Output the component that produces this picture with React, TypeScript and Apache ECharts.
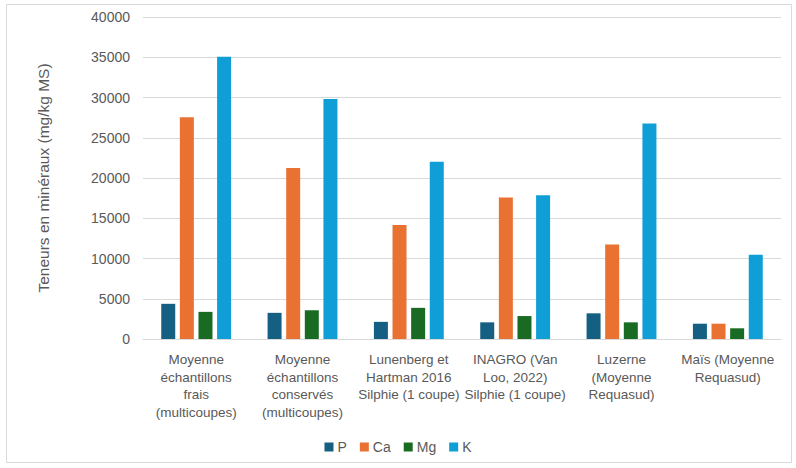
import React, { useEffect, useRef } from "react";
import * as echarts from "echarts";

const categories = [
  "Moyenne\néchantillons\nfrais\n(multicoupes)",
  "Moyenne\néchantillons\nconservés\n(multicoupes)",
  "Lunenberg et\nHartman 2016\nSilphie (1 coupe)",
  "INAGRO (Van\nLoo, 2022)\nSilphie (1 coupe)",
  "Luzerne\n(Moyenne\nRequasud)",
  "Maïs (Moyenne\nRequasud)",
];
const seriesNames = ["P", "Ca", "Mg", "K"];
const pValues = [4370, 3250, 2130, 2070, 3190, 1900];
const caValues = [27550, 21240, 14170, 17580, 11750, 1900];
const mgValues = [3370, 3570, 3870, 2850, 2070, 1330];
const kValues = [35050, 29800, 22020, 17870, 26770, 10460];
const colors = ["#156082", "#E97132", "#196B24", "#0F9ED5"];
const yTicks = { min: 0, max: 40000, interval: 5000 };
const yAxisTitle = "Teneurs en minéraux (mg/kg MS)";

export default function App() {
  const ref = useRef<HTMLDivElement>(null);
  useEffect(() => {
    if (!ref.current) return;
    const chart = echarts.init(ref.current, undefined, { renderer: "svg" });
    const data = [pValues, caValues, mgValues, kValues];
    chart.setOption({
      animation: false,
      backgroundColor: "#ffffff",
      textStyle: { fontFamily: "Liberation Sans, Arial, sans-serif" },
      graphic: [
        {
          type: "rect",
          shape: { x: 6.5, y: 4.5, width: 785, height: 458 },
          style: { fill: "none", stroke: "#d9d9d9", lineWidth: 1 },
          silent: true,
        },
      ],
      grid: { left: 143, right: 15, top: 17, bottom: 129, containLabel: false },
      legend: {
        bottom: 9,
        left: "center",
        itemWidth: 9,
        itemHeight: 9,
        itemGap: 13,
        icon: "rect",
        textStyle: { color: "#595959", fontSize: 14, padding: [0, 0, 0, -1] },
        data: seriesNames,
      },
      xAxis: {
        type: "category",
        data: categories,
        axisLine: { lineStyle: { color: "#d9d9d9", width: 1 } },
        axisTick: { show: false },
        axisLabel: {
          color: "#595959",
          fontSize: 13.5,
          lineHeight: 17.5,
          margin: 12,
          interval: 0,
        },
      },
      yAxis: {
        type: "value",
        min: yTicks.min,
        max: yTicks.max,
        interval: yTicks.interval,
        name: yAxisTitle,
        nameLocation: "middle",
        nameGap: 92,
        nameTextStyle: { color: "#595959", fontSize: 15.5 },
        axisLine: { show: false },
        axisTick: { show: false },
        axisLabel: {
          color: "#595959",
          fontSize: 14,
          margin: 13,
          formatter: (v: number) => String(v),
        },
        splitLine: { lineStyle: { color: "#d9d9d9", width: 1 } },
      },
      series: seriesNames.map((name, i) => ({
        name,
        type: "bar",
        data: data[i],
        barWidth: 14,
        barGap: "33%",
        itemStyle: { color: colors[i] },
      })),
    });
    return () => chart.dispose();
  }, []);
  return (
    <div
      ref={ref}
      style={{ position: "fixed", left: 0, top: 0, width: 796, height: 468 }}
    />
  );
}
